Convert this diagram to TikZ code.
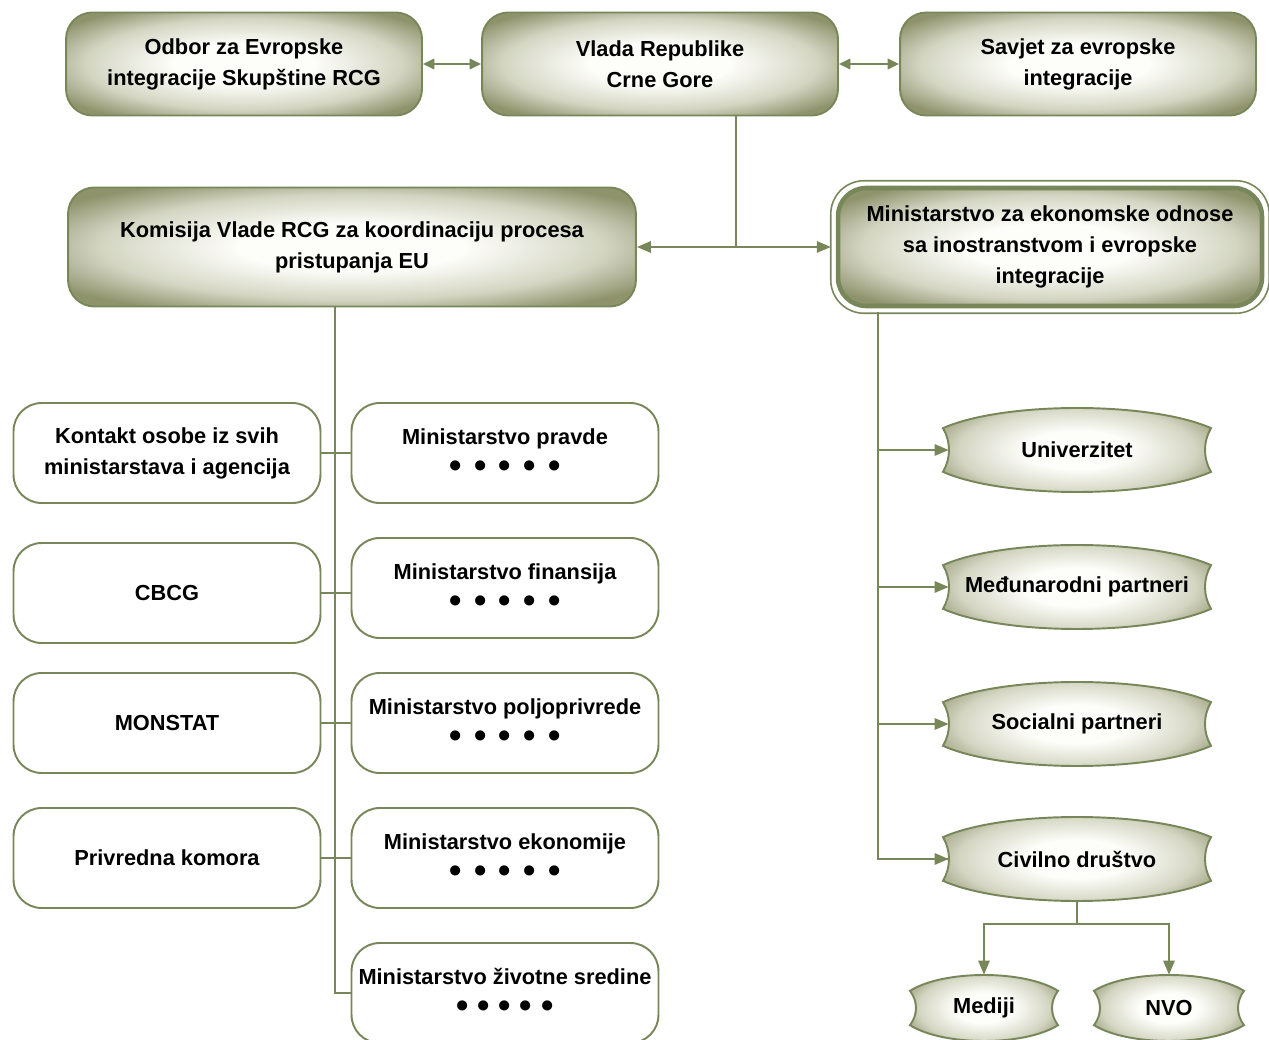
\documentclass[tikz,border=0pt]{standalone}
\usepackage{fontspec}
\setmainfont{Liberation Sans}
\usetikzlibrary{arrows.meta}

\definecolor{oliveline}{RGB}{120,135,90}
\definecolor{olivefill}{RGB}{142,147,108}
\definecolor{olivemid}{RGB}{212,214,195}
\definecolor{paleinner}{RGB}{253,253,249}
\pgfdeclareradialshading{boxshade}{\pgfpoint{0bp}{0bp}}{color(0bp)=(paleinner); color(10bp)=(paleinner);
  color(22bp)=(olivemid); color(31bp)=(olivefill); color(100bp)=(olivefill)}

\newcommand\dotrow[1][7pt]{{\fontsize{20}{20}\selectfont •\hspace{#1}•\hspace{#1}•\hspace{#1}•\hspace{#1}•}}

% wave shaped node: name, x, y, half width, half height, text
\newcommand\wavenode[6]{%
  \shadedraw[wavefill] (#2-#4,#3-0.52*#5) .. controls (#2-0.55*#4,#3-1.16*#5) and (#2+0.55*#4,#3-1.16*#5) .. (#2+#4,#3-0.52*#5)
    .. controls (#2+#4-8,#3-0.2*#5) and (#2+#4-8,#3+0.2*#5) .. (#2+#4,#3+0.52*#5)
    .. controls (#2+0.55*#4,#3+1.16*#5) and (#2-0.55*#4,#3+1.16*#5) .. (#2-#4,#3+0.52*#5)
    .. controls (#2-#4+8,#3+0.2*#5) and (#2-#4+8,#3-0.2*#5) .. cycle;
  \node[wavetext, minimum width=(2*#4-12)*0.02cm, minimum height=2*#5*0.02cm] (#1) at (#2,#3) {#6};}

\tikzset{
  txt/.style={align=center, font=\bfseries\fontsize{12.4}{17.6}\selectfont},
  greenbox/.style={txt, draw=oliveline, line width=1.1pt, rounded corners=15pt, shading=boxshade},
  whitebox/.style={txt, draw=oliveline, line width=1.1pt, rounded corners=16pt,
    fill=white, minimum width=6.14cm, minimum height=2cm},
  wavefill/.style={draw=oliveline, line width=1.1pt, shading=boxshade},
  wavetext/.style={txt, inner sep=0pt},
  conn/.style={draw=oliveline, line width=1.1pt},
  arr/.style={conn, -{Triangle[length=8pt,width=6.5pt]}},
  twoarr/.style={conn, {Triangle[length=6.5pt,width=6pt]}-{Triangle[length=6.5pt,width=6pt]}}
}

\begin{document}
\begin{tikzpicture}[x=0.02cm,y=-0.02cm]
  \useasboundingbox (0,0) rectangle (1269,1040);

  \node[greenbox, minimum width=7.12cm, minimum height=2.06cm] (odbor) at (244,64)
    {Odbor za Evropske\\integracije Skupštine RCG};
  \node[greenbox, minimum width=7.12cm, minimum height=2.06cm] (vlada) at (660,64)
    {Vlada Republike\\Crne Gore};
  \node[greenbox, minimum width=7.12cm, minimum height=2.06cm] (savjet) at (1078,64)
    {Savjet za evropske\\integracije};

  \node[greenbox, minimum width=11.36cm, minimum height=2.38cm] (komisija) at (352,247)
    {Komisija Vlade RCG za koordinaciju procesa\\pristupanja EU};
  \node[greenbox, line width=2.6pt, rounded corners=16pt, minimum width=8.48cm, minimum height=2.36cm] (mek) at (1050,247)
    {Ministarstvo za ekonomske odnose\\sa inostranstvom i evropske\\integracije};
  \draw[oliveline, line width=0.9pt, rounded corners=19pt]
    ([shift={(-5,-5)}]mek.north west) rectangle ([shift={(5,5)}]mek.south east);

  \node[whitebox] (kontakt) at (167,453) {Kontakt osobe iz svih\\ministarstava i agencija};
  \node[whitebox] (cbcg) at (167,593) {CBCG};
  \node[whitebox] (monstat) at (167,723) {MONSTAT};
  \node[whitebox] (privredna) at (167,858) {Privredna komora};

  \node[whitebox] (pravde) at (505,453) {Ministarstvo pravde\\[1pt]\dotrow};
  \node[whitebox] (finansija) at (505,588) {Ministarstvo finansija\\[1pt]\dotrow};
  \node[whitebox] (poljo) at (505,723) {Ministarstvo poljoprivrede\\[1pt]\dotrow};
  \node[whitebox] (ekonomija) at (505,858) {Ministarstvo ekonomije\\[1pt]\dotrow};
  \node[whitebox] (zivotna) at (505,993) {Ministarstvo životne sredine\\[1pt]\dotrow[5pt]};

  \wavenode{univerzitet}{1077}{450}{134}{42}{Univerzitet}
  \wavenode{medjunarodni}{1077}{587}{134}{42}{Međunarodni partneri}
  \wavenode{socialni}{1077}{724}{134}{42}{Socialni partneri}
  \wavenode{civilno}{1077}{859}{134}{42}{Civilno društvo}
  \wavenode{mediji}{984}{1008}{74}{33}{Mediji}
  \wavenode{nvo}{1169}{1008}{75}{33}{NVO}

  \draw[twoarr] (odbor.east) -- (vlada.west);
  \draw[twoarr] (vlada.east) -- (savjet.west);

  \coordinate (vj) at (736,247);
  \draw[conn] (vlada.south -| vj) -- (vj);
  \draw[arr] (vj) -- (komisija.east);
  \draw[arr, shorten >=2.8pt] (vj) -- (mek.west);

  \coordinate (ltrunk) at (335,307);
  \draw[conn] (ltrunk) |- (zivotna.west);
  \draw[conn] (kontakt.east) -- (pravde.west);
  \foreach \a/\b in {cbcg/finansija,monstat/poljo,privredna/ekonomija}
    \draw[conn] (\a.east) -- (\a.east -| \b.west);

  \coordinate (rtrunk) at (878,312);
  \draw[conn] (rtrunk) |- (civilno.west);
  \foreach \w in {univerzitet,medjunarodni,socialni,civilno}
    \draw[arr] (rtrunk |- \w.west) -- (\w.west);

  \coordinate (cb) at (1077,924);
  \draw[conn] (civilno.south) -- (cb);
  \draw[arr] (cb) -| (mediji.north);
  \draw[arr] (cb) -| (nvo.north);
\end{tikzpicture}
\end{document}
